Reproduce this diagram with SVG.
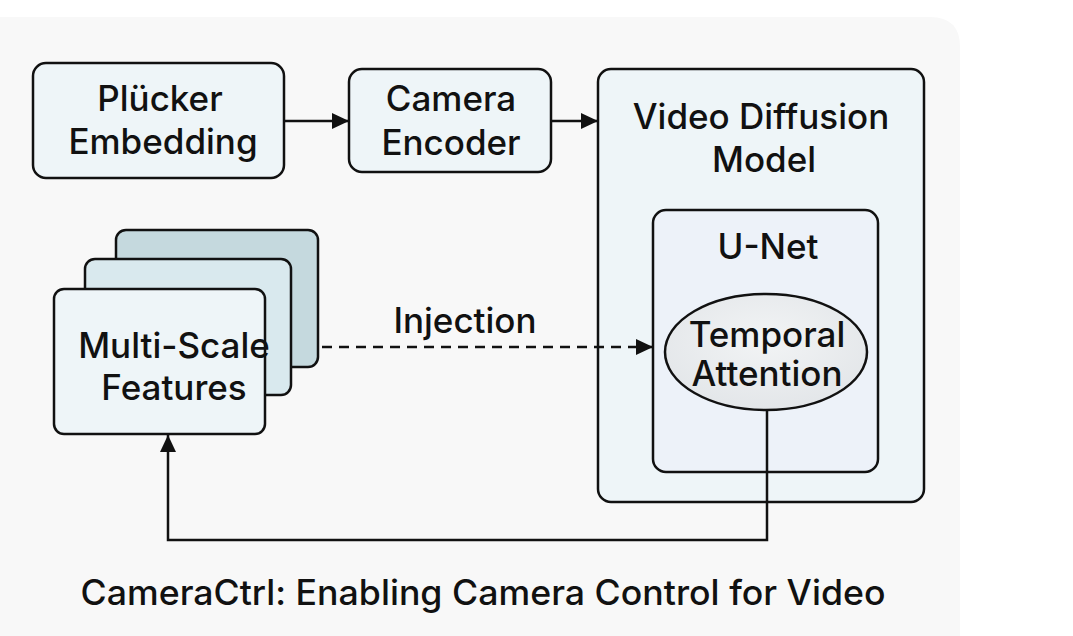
<svg xmlns="http://www.w3.org/2000/svg" width="1073" height="636" viewBox="0 0 1073 636">
<style>
.box{stroke:#111;stroke-width:2.5}
.lbl{font-family:Inter,"Liberation Sans",sans-serif;font-weight:500;font-size:35px;fill:#111;text-anchor:middle}
.ln{stroke:#111;stroke-width:2.5;fill:none}
</style>
<defs>
<marker id="arr" viewBox="0 0 18 18" refX="17" refY="9" markerWidth="18" markerHeight="18" markerUnits="userSpaceOnUse" orient="auto">
<path d="M0,1 L17,9 L0,17 Z" fill="#111"/>
</marker>
<radialGradient id="eg" cx="0.5" cy="0.4" r="0.6">
<stop offset="0" stop-color="#f2f4f5"/>
<stop offset="1" stop-color="#e3e6e9"/>
</radialGradient>
</defs>
<rect width="1073" height="636" fill="#ffffff"/>
<path d="M0,17 H930 Q960,17 960,47 V636 H0 Z" fill="#f8f8f8"/>
<g id="plucker">
<rect class="box" x="33" y="63" width="251" height="115" rx="13" fill="#eef5f8"/>
<text class="lbl" x="160" y="111">Plücker</text>
<text class="lbl" x="163" y="154">Embedding</text>
</g>
<g id="camera-encoder">
<rect class="box" x="349" y="69" width="202" height="103" rx="13" fill="#eef5f8"/>
<text class="lbl" x="451" y="111">Camera</text>
<text class="lbl" x="451" y="155">Encoder</text>
</g>
<g id="video-diffusion-model">
<rect class="box" x="598" y="69" width="326" height="433" rx="13" fill="#eef5f8"/>
<text class="lbl" x="761" y="129">Video Diffusion</text>
<text class="lbl" x="764" y="172">Model</text>
</g>
<g id="unet">
<rect class="box" x="653" y="210" width="225" height="262" rx="13" fill="#edf2f9"/>
<text class="lbl" x="768" y="259">U-Net</text>
</g>
<g id="temporal-attention">
<ellipse class="box" cx="766" cy="352" rx="101" ry="58" fill="url(#eg)"/>
<text class="lbl" x="767" y="347" font-size="30">Temporal</text>
<text class="lbl" x="767" y="386" font-size="30">Attention</text>
</g>
<g id="multi-scale-features">
<rect class="box" x="116" y="230" width="202" height="137" rx="10" fill="#c5d9de"/>
<rect class="box" x="85" y="259" width="206" height="136" rx="10" fill="#d9e9ee"/>
<rect class="box" x="54" y="289" width="211" height="145" rx="10" fill="#eef5f8"/>
<text class="lbl" x="174" y="358" font-size="34">Multi-Scale</text>
<text class="lbl" x="174" y="400" font-size="34">Features</text>
</g>
<g id="connectors">
<line class="ln" x1="285" y1="121" x2="349" y2="121" marker-end="url(#arr)"/>
<line class="ln" x1="552" y1="121" x2="598" y2="121" marker-end="url(#arr)"/>
<line class="ln" x1="322" y1="347" x2="653" y2="347" stroke-dasharray="10 7" marker-end="url(#arr)"/>
<polyline class="ln" points="767,411 767,540 168,540 168,435" marker-end="url(#arr)"/>
<text class="lbl" x="465" y="333" font-size="33">Injection</text>
</g>
<text class="lbl" x="483" y="605" font-size="37" textLength="805" lengthAdjust="spacingAndGlyphs">CameraCtrl: Enabling Camera Control for Video</text>
</svg>
